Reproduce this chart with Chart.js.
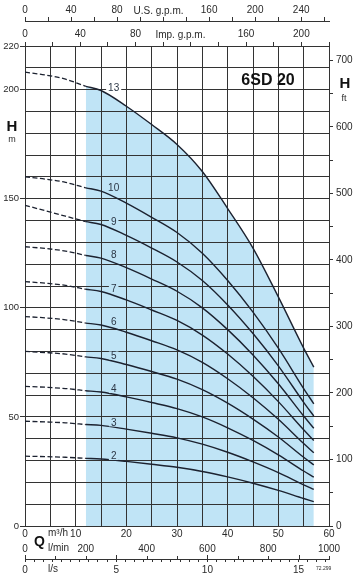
<!DOCTYPE html>
<html>
<head>
<meta charset="utf-8">
<title>6SD 20</title>
<script src="https://cdn.jsdelivr.net/npm/chart.js@4.4.1/dist/chart.umd.min.js"></script>
<style>
  html, body { margin: 0; padding: 0; background: #fff; }
  canvas { display: block; }
</style>
</head>
<body>
<canvas id="chart" width="359" height="576"></canvas>
<script>
// 6SD 20 - H/Q curves, one curve per stage count

// Q points [m3/h]: dashed part (outside working range) and solid part
const dashQ = [0, 4, 8, 12];
const curveQ = [12, 15, 20, 25, 30, 35, 40, 45, 50, 55, 57];

// H [m]
const stage2Dash = [32, 31.8, 31.5, 31];
const stage2 = [31, 30.7, 29.6, 28.3, 26.9, 25, 22.5, 19.6, 16.3, 12.6, 11.2];
const stage3Dash = [48, 47.7, 47.3, 46.5];
const stage3 = [46.5, 46.1, 44.4, 42.5, 40.4, 37.5, 33.8, 29.4, 24.5, 18.9, 16.8];
const stage4Dash = [64, 63.6, 63, 62];
const stage4 = [62, 61.4, 59.2, 56.6, 53.8, 50, 45, 39.2, 32.6, 25.2, 22.4];
const stage5Dash = [80, 79.5, 78.8, 77.5];
const stage5 = [77.5, 76.8, 74, 70.8, 67.3, 62.5, 56.3, 49, 40.8, 31.5, 28];
const stage6Dash = [96, 95.4, 94.5, 93];
const stage6 = [93, 92.1, 88.8, 84.9, 80.7, 75, 67.5, 58.8, 48.9, 37.8, 33.6];
const stage7Dash = [112, 111.3, 110.3, 108.5];
const stage7 = [108.5, 107.5, 103.6, 99, 94.2, 87.5, 78.8, 68.6, 57, 44.1, 39.2];
const stage8Dash = [128, 127.2, 126, 124];
const stage8 = [124, 122.8, 118.4, 113.2, 107.6, 100, 90, 78.4, 65.2, 50.4, 44.8];
const stage9Dash = [147, 144.5, 142, 139.5];
const stage9 = [139.5, 138.2, 133.2, 127.4, 121, 112.5, 101.3, 88.2, 73.4, 56.7, 50.4];
const stage10Dash = [160, 159, 157.5, 155];
const stage10 = [155, 153.5, 148, 141.5, 134.5, 125, 112.5, 98, 81.5, 63, 56];
const stage13Dash = [208, 206.7, 204.8, 201.5];
const stage13 = [201.5, 199.6, 192.4, 184, 174.9, 162.5, 145.5, 127.4, 105, 81.5, 72.8];

const stageNames = ['2', '3', '4', '5', '6', '7', '8', '9', '10', '13'];

// tick labels shown on each axis
const qTicks = [0, 10, 20, 30, 40, 50, 60];
const lminTicks = [0, 200, 400, 600, 800, 1000];
const lsTicks = [0, 5, 10, 15];
const usTicks = [0, 40, 80, 160, 200, 240];
const impTicks = [0, 40, 80, 160, 200];
const hmTicks = [0, 50, 100, 150, 200, 220];
const hftTicks = [0, 100, 200, 300, 400, 500, 600, 700];

// unit conversions
const M3H_TO_US = 4.4029;
const M_TO_FT = 3.28084;

const FONT = '"Liberation Sans", Arial, Helvetica, sans-serif';
const TEXT = '#2a2a2a';
const GRID = '#333';
const LINE = '#1c2230';
const BLUE = '#c0e4f6';

const stageSeries = [
  [stageNames[0], stage2Dash, stage2],
  [stageNames[1], stage3Dash, stage3],
  [stageNames[2], stage4Dash, stage4],
  [stageNames[3], stage5Dash, stage5],
  [stageNames[4], stage6Dash, stage6],
  [stageNames[5], stage7Dash, stage7],
  [stageNames[6], stage8Dash, stage8],
  [stageNames[7], stage9Dash, stage9],
  [stageNames[8], stage10Dash, stage10],
  [stageNames[9], stage13Dash, stage13]
];

const datasets = [];
stageSeries.forEach(([name, dash, solid], i) => {
  const isTop = i === stageSeries.length - 1;
  datasets.push({
    label: name + '-dash',
    data: dashQ.map((q, k) => ({ x: q, y: dash[k] })),
    borderColor: LINE,
    borderWidth: 1.3,
    borderDash: [5, 2.5],
    pointRadius: 0,
    cubicInterpolationMode: 'monotone',
    fill: false
  });
  datasets.push({
    label: name,
    data: curveQ.map((q, k) => ({ x: q, y: solid[k] })),
    borderColor: LINE,
    borderWidth: 1.4,
    pointRadius: 0,
    cubicInterpolationMode: 'monotone',
    fill: isTop ? 'origin' : false,
    backgroundColor: BLUE
  });
});

const tickFont = { family: FONT, size: 10 };
const showIf = list => v => (list.includes(Math.round(v * 1000) / 1000) ? String(Math.round(v)) : '');

// stage labels, axis titles and small extra ticks
const decor = {
  id: 'decor',
  afterDatasetsDraw(chart) {
    const { ctx, scales: { x, y } } = chart;
    ctx.save();
    ctx.font = '10px ' + FONT;
    ctx.textAlign = 'center';
    ctx.textBaseline = 'middle';
    stageSeries.forEach(([name, dash, solid], i) => {
      const px = x.getPixelForValue(17.5);
      const py = y.getPixelForValue(solid[1]) - 3;
      const w = ctx.measureText(name).width + 4;
      ctx.fillStyle = i === stageSeries.length - 1 ? '#fff' : BLUE;
      ctx.fillRect(px - w / 2, py - 4, w, 8);
      ctx.fillStyle = '#2b3645';
      ctx.fillText(name, px, py + 0.5);
    });
    ctx.restore();
  },
  afterDraw(chart) {
    const { ctx, scales } = chart;
    ctx.save();
    ctx.fillStyle = TEXT;
    ctx.textBaseline = 'middle';

    // model name
    ctx.textAlign = 'center';
    ctx.font = 'bold 16px ' + FONT;
    ctx.fillStyle = '#111';
    ctx.fillText('6SD 20', 268, 81);

    // axis titles
    ctx.fillStyle = TEXT;
    ctx.font = '10px ' + FONT;
    ctx.fillText('U.S. g.p.m.', scales.us.getPixelForValue(116), 11);
    ctx.fillText('Imp. g.p.m.', scales.imp.getPixelForValue(112.5), 35);

    ctx.fillStyle = '#111';
    ctx.font = 'bold 15px ' + FONT;
    ctx.fillText('H', 12, 127);
    ctx.fillText('H', 345, 84);
    ctx.font = 'bold 14px ' + FONT;
    ctx.fillText('Q', 39.5, 542);

    ctx.fillStyle = TEXT;
    ctx.font = '9px ' + FONT;
    ctx.fillText('m', 12, 140);
    ctx.fillText('ft', 344, 99);

    ctx.textAlign = 'left';
    ctx.font = '10px ' + FONT;
    ctx.fillText('m\u00b3/h', 48, 533);
    ctx.fillText('l/min', 48, 548);
    ctx.fillText('l/s', 48, 569);
    ctx.font = '5px ' + FONT;
    ctx.fillText('72.299', 316, 569);

    // upward ticks on the l/s line: l/min every 100, l/s every 5
    const ls = scales.ls;
    const lineY = ls.top;
    ctx.strokeStyle = GRID;
    ctx.lineWidth = 1;
    ctx.beginPath();
    for (let v = 0; v <= 1000; v += 100) {
      const px = Math.round(scales.lmin.getPixelForValue(v)) + 0.5;
      ctx.moveTo(px, lineY);
      ctx.lineTo(px, lineY - 3);
    }
    lsTicks.forEach(v => {
      const px = Math.round(ls.getPixelForValue(v)) + 0.5;
      ctx.moveTo(px, lineY);
      ctx.lineTo(px, lineY - 4);
    });
    ctx.stroke();
    ctx.restore();
  }
};

new Chart(document.getElementById('chart'), {
  type: 'line',
  data: { datasets },
  options: {
    responsive: false,
    animation: false,
    events: [],
    layout: { padding: 0 },
    plugins: {
      legend: { display: false },
      tooltip: { enabled: false },
      filler: { drawTime: 'beforeDraw' }
    },
    scales: {
      x: {
        type: 'linear', position: 'bottom', min: 0, max: 60, weight: 0,
        ticks: { stepSize: 5, autoSkip: false, maxRotation: 0, padding: 2, color: TEXT, font: tickFont, callback: showIf(qTicks) },
        grid: { color: GRID, lineWidth: 1, drawTicks: false },
        border: { display: false },
        afterFit: s => { s.height = 14; }
      },
      lmin: {
        type: 'linear', position: 'bottom', min: 0, max: 1000, weight: 1,
        ticks: { stepSize: 200, autoSkip: false, maxRotation: 0, padding: 3, color: TEXT, font: tickFont, callback: showIf(lminTicks) },
        grid: { display: false, drawTicks: false },
        border: { display: false },
        afterFit: s => { s.height = 19; }
      },
      ls: {
        type: 'linear', position: 'bottom', min: 0, max: 60 / 3.6, weight: 2,
        ticks: { stepSize: 0.5, includeBounds: false, autoSkip: false, maxRotation: 0, padding: 2, color: TEXT, font: tickFont, callback: showIf(lsTicks) },
        grid: { drawOnChartArea: false, drawTicks: true, tickLength: 3, color: GRID },
        border: { display: true, color: GRID, width: 1 },
        afterFit: s => { s.height = 17; }
      },
      imp: {
        // 60 m3/h = 219.97 imp. g.p.m., taken as 220
        type: 'linear', position: 'top', min: 0, max: 220, weight: 1,
        ticks: { stepSize: 20, autoSkip: false, maxRotation: 0, padding: 2, color: TEXT, font: tickFont, callback: showIf(impTicks) },
        grid: { drawOnChartArea: false, drawTicks: true, tickLength: 4, color: GRID },
        border: { display: true, color: GRID, width: 1 },
        afterFit: s => { s.height = 25; }
      },
      us: {
        type: 'linear', position: 'top', min: 0, max: 60 * M3H_TO_US, weight: 2,
        ticks: { stepSize: 20, includeBounds: false, autoSkip: false, maxRotation: 0, padding: 1, color: TEXT, font: tickFont, callback: showIf(usTicks) },
        grid: { drawOnChartArea: false, drawTicks: true, tickLength: 4, color: GRID },
        border: { display: true, color: GRID, width: 1 },
        afterFit: s => { s.height = 21; }
      },
      y: {
        type: 'linear', position: 'left', min: 0, max: 220,
        ticks: { stepSize: 10, autoSkip: false, padding: 1, color: TEXT, font: { family: FONT, size: 9.5 }, callback: showIf(hmTicks) },
        grid: {
          color: GRID, lineWidth: 1, drawTicks: true, tickLength: 5,
          tickColor: c => (c.tick && hmTicks.includes(c.tick.value) ? GRID : 'rgba(0,0,0,0)')
        },
        border: { display: false },
        afterFit: s => { s.width = 25; }
      },
      yFt: {
        type: 'linear', position: 'right', min: 0, max: 220 * M_TO_FT,
        ticks: { stepSize: 50, includeBounds: false, autoSkip: false, padding: 3, color: TEXT, font: tickFont, callback: showIf(hftTicks) },
        grid: { drawOnChartArea: false, drawTicks: true, tickLength: 4, color: GRID },
        border: { display: false },
        afterFit: s => { s.width = 30; }
      }
    }
  },
  plugins: [decor]
});
</script>
</body>
</html>
